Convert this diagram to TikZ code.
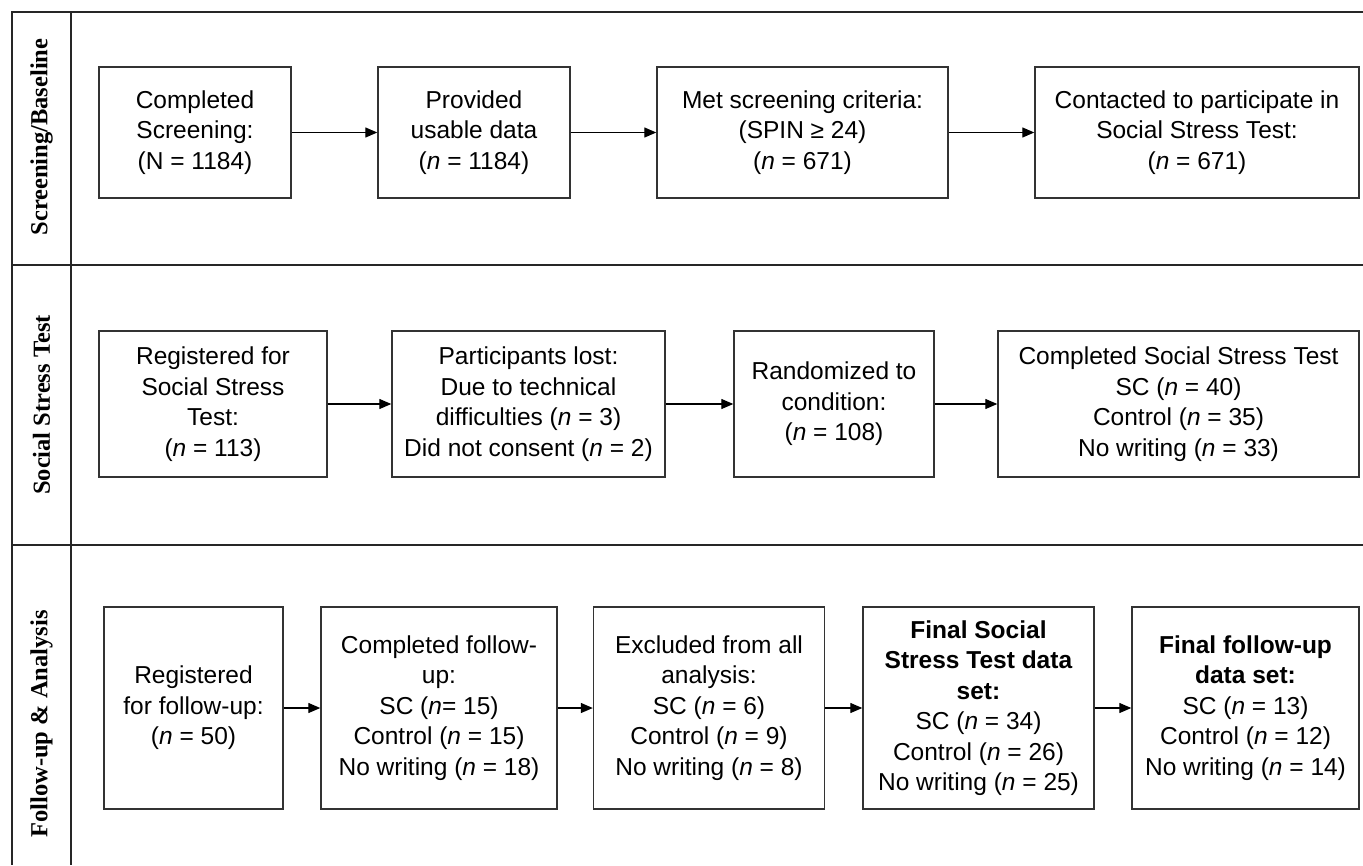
\documentclass[tikz,border=0pt]{standalone}
\usepackage{fontspec}
\setmainfont{Liberation Sans}
\newfontfamily\laneserif{Liberation Serif}
\usetikzlibrary{arrows.meta}
\newcommand\flowfont{\fontsize{24.5}{30.5}\selectfont}
\newcommand\lanefont{\laneserif\bfseries\fontsize{24.5}{28}\selectfont}
\newcommand\nn{\textit{n}}
\begin{document}
\begin{tikzpicture}[x=1pt,y=-1pt,
  frame/.style={line width=1.4pt, draw=black!85},
  stepbox/.style={draw=black!80, line width=1.4pt, inner sep=0pt, align=center, font=\flowfont},
  arr/.style={-{Triangle[length=12pt,width=10pt]}, line width=1.3pt, draw=black},
  lane/.style={rotate=90, font=\lanefont, inner sep=0pt}]
\useasboundingbox (0,0) rectangle (1363,865);

% swim-lane table
\draw[frame] (1363,12) -- (12,12) -- (12,865);
\draw[frame] (71,12) -- (71,865);
\draw[frame] (12,265) -- (1363,265);
\draw[frame] (12,545) -- (1363,545);

\node[lane] (lane1) at (41.5,137) {Screening/Baseline};
\node[lane] (lane2) at (41.5,405) {Social Stress Test};
\node[lane] (lane3) at (41.5,724) {Follow-up \& Analysis};

% row 1: screening
\begin{scope}[every node/.append style={minimum height=131pt}]
\node[stepbox, minimum width=192pt] (b11) at (195,132.5) {Completed\\Screening:\\(N = 1184)};
\node[stepbox, minimum width=192pt] (b12) at (474,132.5) {Provided\\usable data\\(\nn{} = 1184)};
\node[stepbox, minimum width=291pt] (b13) at (802.5,132.5) {Met screening criteria:\\(SPIN ≥ 24)\\(\nn{} = 671)};
\node[stepbox, minimum width=324pt] (b14) at (1197,132.5) {Contacted to participate in\\Social Stress Test:\\(\nn{} = 671)};
\end{scope}

% row 2: social stress test
\begin{scope}[every node/.append style={minimum height=146pt}]
\node[stepbox, minimum width=228pt] (b21) at (213,404) {Registered for\\Social Stress\\Test:\\(\nn{} = 113)};
\node[stepbox, minimum width=273pt] (b22) at (528.5,404) {Participants lost:\\Due to technical\\difficulties (\nn{} = 3)\\Did not consent (\nn{} = 2)};
\node[stepbox, minimum width=200pt] (b23) at (834,404) {Randomized to\\condition:\\(\nn{} = 108)};
\node[stepbox, minimum width=361pt] (b24) at (1178.5,404) {Completed Social Stress Test\\SC (\nn{} = 40)\\Control (\nn{} = 35)\\No writing (\nn{} = 33)};
\end{scope}

% row 3: follow-up and analysis
\begin{scope}[every node/.append style={minimum height=202pt}]
\node[stepbox, minimum width=179pt] (b31) at (193.5,708) {Registered\\for follow-up:\\(\nn{} = 50)};
\node[stepbox, minimum width=236pt] (b32) at (439,708) {Completed follow-\\up:\\SC (\nn= 15)\\Control (\nn{} = 15)\\No writing (\nn{} = 18)};
\node[stepbox, minimum width=231pt] (b33) at (709,708) {Excluded from all\\analysis:\\SC (\nn{} = 6)\\Control (\nn{} = 9)\\No writing (\nn{} = 8)};
\node[stepbox, minimum width=231pt] (b34) at (978.5,708) {\textbf{Final Social}\\\textbf{Stress Test data}\\\textbf{set:}\\SC (\nn{} = 34)\\Control (\nn{} = 26)\\No writing (\nn{} = 25)};
\node[stepbox, minimum width=227pt] (b35) at (1245.5,708) {\textbf{Final follow-up}\\\textbf{data set:}\\SC (\nn{} = 13)\\Control (\nn{} = 12)\\No writing (\nn{} = 14)};
\end{scope}

% flow arrows
\draw[arr] (b11) -- (b12);
\draw[arr] (b12) -- (b13);
\draw[arr] (b13) -- (b14);
\draw[arr] (b21) -- (b22);
\draw[arr] (b22) -- (b23);
\draw[arr] (b23) -- (b24);
\draw[arr] (b31) -- (b32);
\draw[arr] (b32) -- (b33);
\draw[arr] (b33) -- (b34);
\draw[arr] (b34) -- (b35);
\end{tikzpicture}
\end{document}
